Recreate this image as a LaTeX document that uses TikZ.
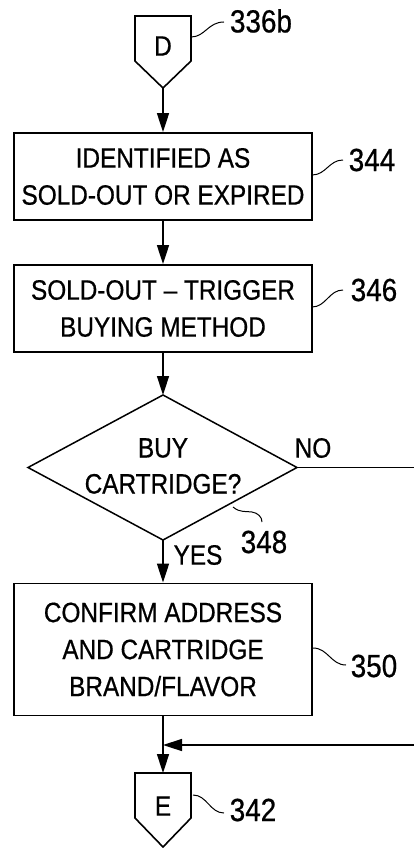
\documentclass[tikz,border=0pt]{standalone}
\usepackage{fontspec}
\setmainfont{Liberation Sans}[FakeStretch=0.87,FakeBold=0.6]
\usetikzlibrary{arrows.meta}
\tikzset{
  box/.style={draw, line width=1.9pt, minimum width=298pt, align=center, inner sep=0pt,
    font=\fontsize{28}{37}\selectfont},
  conn/.style={line width=1.6pt, line join=miter},
  arr/.style={line width=1.5pt, -{Triangle[length=19pt,width=12pt]}},
  ln/.style={line width=1.5pt},
  lbl/.style={font=\fontsize{32}{36}\selectfont, inner sep=0pt},
  txt/.style={font=\fontsize{28}{36}\selectfont, inner sep=0pt, align=center},
  lead/.style={line width=1pt},
}
\begin{document}
\begin{tikzpicture}[x=1pt,y=-1pt]
\useasboundingbox[fill=white] (0,0) rectangle (414,848);

% connector D
\draw[conn] (135,16) -- (191,16) -- (191,61) -- (163,88) -- (135,61) -- cycle;
\node[txt] (D) at (163,46) {D};
\coordinate (Dtip) at (163,88);

% boxes
\node[box, minimum height=87pt] (b344) at (163,176.5) {IDENTIFIED AS\\SOLD-OUT OR EXPIRED};
\node[box, minimum height=87pt] (b346) at (163,308.5) {SOLD-OUT -- TRIGGER\\BUYING METHOD};

% decision
\coordinate (dN) at (163,395);
\coordinate (dE) at (297,467.5);
\coordinate (dS) at (163,540);
\coordinate (dW) at (28,467.5);
\draw[line width=1.5pt, line join=miter] (dN) -- (dE) -- (dS) -- (dW) -- cycle;
\node[txt] (d348) at (163,466) {BUY\\CARTRIDGE?};

\node[box, minimum height=132pt] (b350) at (163,649.5) {CONFIRM ADDRESS\\AND CARTRIDGE\\BRAND/FLAVOR};

% connector E
\draw[conn] (135,773) -- (191,773) -- (191,818) -- (163,847) -- (135,818) -- cycle;
\node[txt] (E) at (163,806) {E};
\coordinate (Etop) at (163,773);

% flow lines
\coordinate (m) at (163,745);
\coordinate (noR) at (414,467.5);
\coordinate (eR) at (414,745);
\draw[arr] (Dtip) -- (b344.north);
\draw[arr] (b344.south) -- (b346.north);
\draw[arr] (b346.south) -- (dN);
\draw[arr] (dS) -- (b350.north);
\draw[ln] (b350.south) -- (m);
\draw[arr] (m) -- (Etop);
\draw[ln] (dE) -- (noR);
\draw[arr] (eR) -- (m);

% branch labels
\node[txt] (no) at (313,448) {NO};
\node[txt] (yes) at (198,555) {YES};

% reference labels and leaders
\node[lbl] (l336) at (261,21) {336b};
\draw[lead] (191,37) .. controls (205,37) and (208,22) .. (224,22);
\node[lbl] (l344) at (372,160) {344};
\draw[lead] (312,175) .. controls (326,175) and (329,160) .. (343,160);
\node[lbl] (l346) at (374,290) {346};
\draw[lead] (312,307) .. controls (326,307) and (329,290) .. (343,290);
\node[lbl] (l348) at (264,542) {348};
\draw[lead] (233,507) .. controls (240,513) and (246,511) .. (252,512) .. controls (258,513) and (262,517) .. (262,522);
\node[lbl] (l350) at (374,666) {350};
\draw[lead] (313,648) .. controls (328,648) and (331,665) .. (346,665);
\node[lbl] (l342) at (253,810) {342};
\draw[lead] (193,795) .. controls (207,795) and (210,813) .. (224,813);
\end{tikzpicture}
\end{document}
